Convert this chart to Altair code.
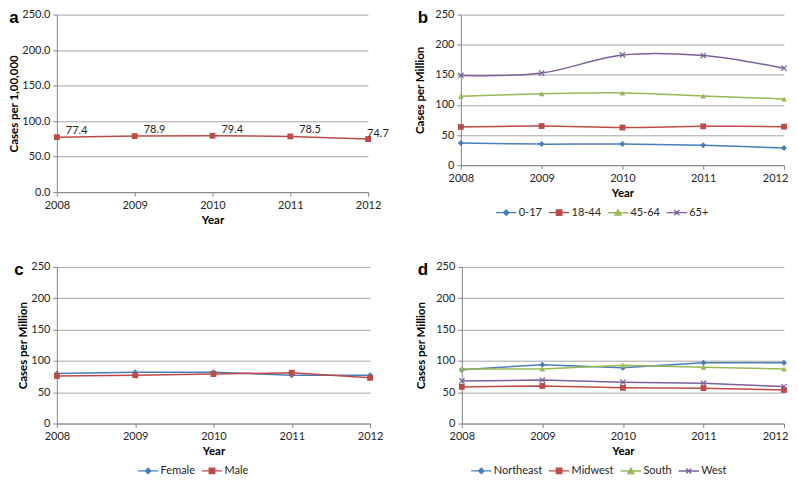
import altair as alt
import pandas as pd

years = [2008, 2009, 2010, 2011, 2012]

# Panel a: overall incidence (cases per 1,00,000)
overall = [77.4, 78.9, 79.4, 78.5, 74.7]

# Panel b: age groups (cases per million)
age_groups = ["0-17", "18-44", "45-64", "65+"]
age_0_17 = [37, 35, 35, 33, 28.5]
age_18_44 = [63.5, 65, 62.5, 64.5, 64]
age_45_64 = [114.5, 118.5, 120, 115, 110]
age_65p = [149, 153, 183, 182, 161]

# Panel c: sex
sexes = ["Female", "Male"]
female = [80, 82, 82, 77, 77]
male = [76, 77, 79, 81, 73]

# Panel d: region
regions = ["Northeast", "Midwest", "South", "West"]
northeast = [86, 94, 89, 97, 97]
midwest = [58.5, 60, 57, 56.5, 53.5]
south = [87, 87, 93, 90, 87]
west = [68, 69.5, 66, 64.5, 59]

BLUE, RED, GREEN, PURPLE = "#4A7EBB", "#BE4B48", "#98B954", "#7D60A0"
FONT = "Lato"
AXIS_COLOR = "#868686"
GRID_COLOR = "#A6A6A6"
TEXT_COLOR = "#262626"

X_PATH = "M-0.85,-0.85L0.85,0.85M-0.85,0.85L0.85,-0.85"
MARKERS = {"diamond": "diamond", "square": "square", "triangle": "triangle-up", "x": X_PATH}
LEG_PATHS = {
    "diamond": "M-3.4,0L3.4,0M0,-0.9L0.9,0L0,0.9L-0.9,0Z",
    "square": "M-3.4,0L3.4,0M-0.9,-0.9L0.9,-0.9L0.9,0.9L-0.9,0.9Z",
    "triangle": "M-3.4,0L3.4,0M0,-0.95L1,0.8L-1,0.8Z",
    "x": "M-3.4,0L3.4,0M-0.85,-0.85L0.85,0.85M-0.85,0.85L0.85,-0.85",
}

INDEP = dict(color="independent", fill="independent", stroke="independent",
             shape="independent")


def long_df(names, series):
    rows = []
    for n, vals in zip(names, series):
        for yr, v in zip(years, vals):
            rows.append({"Year": yr, "Value": v, "Series": n})
    return pd.DataFrame(rows)


def x_enc(last_shift=0):
    return alt.X(
        "Year:Q",
        scale=alt.Scale(domain=[2008, 2012], nice=False, zero=False),
        axis=alt.Axis(values=years, format="d", title="Year", grid=False,
                      tickSize=4, labelPadding=3, titlePadding=4, labelFlush=False,
                      labelOffset={"condition": {"test": "datum.value == 2012",
                                                 "value": last_shift}, "value": 0}),
    )


def y_enc(title, fmt, title_pad):
    return alt.Y(
        "Value:Q",
        scale=alt.Scale(domain=[0, 250], nice=False),
        axis=alt.Axis(values=[0, 50, 100, 150, 200, 250], format=fmt, title=title,
                      grid=True, tickSize=4, labelPadding=3, titlePadding=title_pad,
                      labelOverlap=False),
    )


def panel_label(letter, dx):
    return alt.Chart(pd.DataFrame({"t": [letter]})).mark_text(
        font="Liberation Sans", fontWeight="bold", fontSize=17, align="center",
        baseline="alphabetic", color="#000000",
    ).encode(text="t:N", x=alt.value(dx), y=alt.value(8))


def series_panel(names, series, colors, kinds, w, h, title, interp, letter,
                 letter_dx, leg_x, leg_y, title_pad, last_shift):
    df = long_df(names, series)
    base = alt.Chart(df)
    X, Y = x_enc(last_shift), y_enc(title, "d", title_pad)
    layers = []
    for n, c in zip(names, colors):
        layers.append(base.transform_filter(alt.datum.Series == n).mark_line(
            strokeWidth=1.5, interpolate=interp, color=c).encode(x=X, y=Y))
    for n, c, k in zip(names, colors, kinds):
        if k == "x":
            m = base.transform_filter(alt.datum.Series == n).mark_point(
                shape=MARKERS[k], filled=False, color=c, size=40, strokeWidth=1.2, opacity=1)
        else:
            m = base.transform_filter(alt.datum.Series == n).mark_point(
                shape=MARKERS[k], filled=True, color=c,
                size=34 if k != "diamond" else 36, opacity=1)
        layers.append(m.encode(x=X, y=Y))
    leg = alt.Legend(
        orient="none", legendX=leg_x, legendY=leg_y, direction="horizontal",
        title=None, symbolSize=36, symbolStrokeWidth=1.4, symbolOffset=7,
        labelOffset=7, columnPadding=3, labelFont=FONT, labelFontSize=11,
        labelColor=TEXT_COLOR, symbolOpacity=1,
    )
    legend = base.transform_filter("false").mark_point(
        filled=True, strokeWidth=1.4, opacity=1).encode(
        fill=alt.Fill("Series:N", scale=alt.Scale(domain=names, range=colors), legend=leg),
        stroke=alt.Stroke("Series:N", scale=alt.Scale(domain=names, range=colors), legend=leg),
        shape=alt.Shape(
            "Series:N",
            scale=alt.Scale(domain=names, range=[LEG_PATHS[k] for k in kinds]),
            legend=leg,
        ),
    )
    layers.append(legend)
    layers.append(panel_label(letter, letter_dx))
    return alt.layer(*layers).properties(width=w, height=h)


# Panel a
df_a = pd.DataFrame({"Year": years, "Value": overall})
base_a = alt.Chart(df_a)
XA, YA = x_enc(0), y_enc("Cases per 1,00,000", ".1f", 2)
line_a = base_a.mark_line(strokeWidth=1.5, color=RED).encode(x=XA, y=YA)
pts_a = base_a.mark_point(shape="square", filled=True, color=RED, size=34, opacity=1).encode(
    x=XA, y=YA)
lab_a = base_a.transform_filter(alt.datum.Year < 2012).mark_text(
    align="left", baseline="middle", dx=9, dy=-6, font=FONT, fontSize=11, color=TEXT_COLOR
).encode(x=XA, y=YA, text=alt.Text("Value:Q", format=".1f"))
lab_a_last = base_a.transform_filter(alt.datum.Year == 2012).mark_text(
    align="left", baseline="middle", dx=-1, dy=-5, font=FONT, fontSize=11, color=TEXT_COLOR
).encode(x=XA, y=YA, text=alt.Text("Value:Q", format=".1f"))
panel_a = alt.layer(line_a, pts_a, lab_a, lab_a_last, panel_label("a", -43)).properties(
    width=312, height=178)

panel_b = series_panel(age_groups, [age_0_17, age_18_44, age_45_64, age_65p],
                       [BLUE, RED, GREEN, PURPLE], ["diamond", "square", "triangle", "x"],
                       324, 151, "Cases per Million", "catmull-rom", "b", -38, 33, 193, 9, -9)
panel_c = series_panel(sexes, [female, male], [BLUE, RED], ["diamond", "square"],
                       314, 157, "Cases per Million", "linear", "c", -38, 79, 199, 2, 0)
panel_d = series_panel(regions, [northeast, midwest, south, west],
                       [BLUE, RED, GREEN, PURPLE], ["diamond", "square", "triangle", "x"],
                       323, 157, "Cases per Million", "linear", "d", -39, 7, 199, 9, -9)

row1 = alt.hconcat(panel_a, panel_b, spacing=25).resolve_scale(**INDEP).resolve_legend(**INDEP)
row2 = alt.hconcat(panel_c, panel_d, spacing=32).resolve_scale(**INDEP).resolve_legend(**INDEP)
chart = alt.vconcat(row1, row2, spacing=35).resolve_scale(**INDEP).resolve_legend(
    **INDEP).properties(
    padding={"left": 0, "top": 0, "right": 0, "bottom": 0}
).configure_view(stroke=None).configure_axis(
    domainColor=AXIS_COLOR, tickColor=AXIS_COLOR, gridColor=GRID_COLOR,
    labelFont=FONT, labelFontSize=11, labelColor=TEXT_COLOR,
    titleFont=FONT, titleFontSize=11.5, titleFontWeight="bold", titleColor="#000000",
    domainWidth=1, gridWidth=1,
)

chart.save("out.html", embed_options={"renderer": "svg", "actions": False})
